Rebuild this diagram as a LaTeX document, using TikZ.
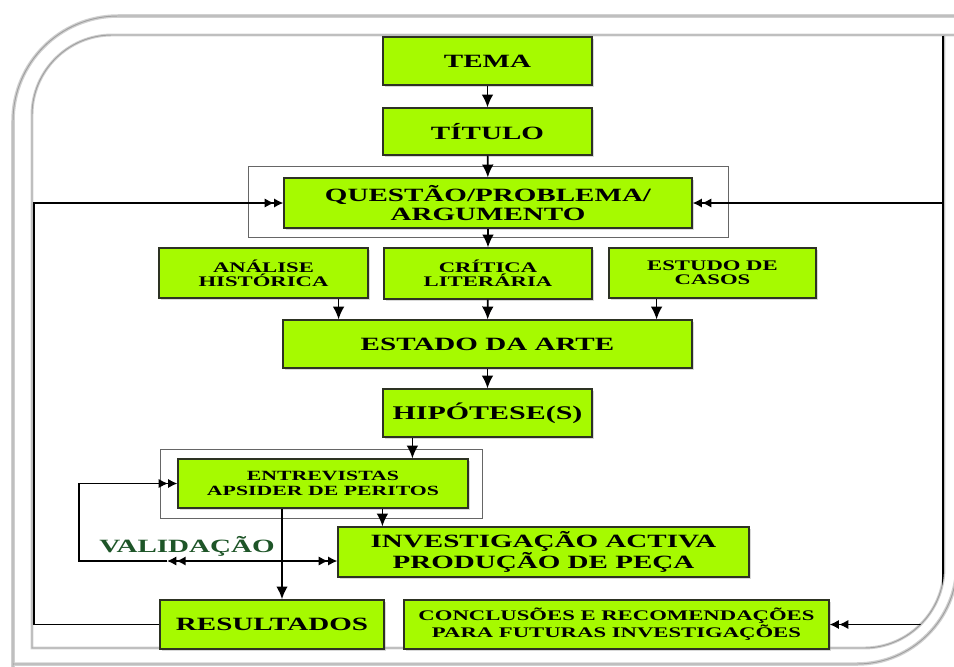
\documentclass[tikz,border=0pt]{standalone}
\usepackage{fontspec}
\newfontfamily\boxfont[FakeStretch=1.55]{Liberation Serif}
\usetikzlibrary{arrows.meta,shadows}
\definecolor{boxgreen}{RGB}{166,250,0}
\definecolor{boxline}{RGB}{45,50,35}
\definecolor{valgreen}{RGB}{30,85,40}
\definecolor{framegray}{RGB}{160,160,160}
\begin{document}
\begin{tikzpicture}[x=0.03cm,y=-0.03cm,
	box/.style={draw=boxline,fill=boxgreen,line width=1pt,inner sep=0pt,align=center,
		drop shadow={opacity=0.3,shadow xshift=0.06cm,shadow yshift=-0.06cm},
		font=\boxfont\bfseries\fontsize{16}{16}\selectfont},
	wh/.style 2 args={minimum width=#1*0.03cm,minimum height=#2*0.03cm},
	smalltext/.style={font=\boxfont\bfseries\fontsize{12.5}{12}\selectfont},
	grp/.style={draw=black!60,line width=0.8pt},
	link/.style={line width=1.4pt,-{Latex[length=11pt,width=10pt]}},
	dtip/.style={line width=1.4pt},
	dlink/.style={dtip,-{Latex[length=8pt,width=8pt]Latex[length=8pt,width=8pt]}}]
	\useasboundingbox (0,0) rectangle (954,666);
	\fill[white] (0,0) rectangle (954,666);
	% frames
	\draw[framegray!50,line width=3pt] (13,680) -- (13,121) .. controls (13,63) and (60,16) .. (118,16) -- (957,16) -- (957,564) .. controls (957,619) and (912,664) .. (857,664) -- (13,664);
	\draw[framegray,line width=0.8pt] (13,680) -- (13,121) .. controls (13,63) and (60,16) .. (118,16) -- (957,16) -- (957,564) .. controls (957,619) and (912,664) .. (857,664) -- (13,664);
	\draw[framegray!50,line width=2.5pt] (954,35) -- (112,35) .. controls (68,35) and (32,71) .. (32,115) -- (32,648) -- (864,648) .. controls (908,648) and (944,612) .. (944,568) -- (944,35);
	\draw[framegray,line width=0.8pt] (954,35) -- (112,35) .. controls (68,35) and (32,71) .. (32,115) -- (32,648) -- (864,648) .. controls (908,648) and (944,612) .. (944,568) -- (944,35);

	\draw[grp] (248,166) rectangle (728,237);
	\draw[grp] (160,449) rectangle (482,518);

	\node[box,wh={209}{48}] (tema) at (487.5,61) {TEMA};
	\node[box,wh={209}{47}] (titulo) at (487.5,131.5) {TÍTULO};
	\node[box,wh={408}{50}] (qst) at (488,203) {QUESTÃO/PROBLEMA/\\ARGUMENTO};
	\node[box,smalltext,wh={209}{50}] (ana) at (263.5,273) {ANÁLISE\\HISTÓRICA};
	\node[box,smalltext,wh={208}{51}] (cri) at (488,273.5) {CRÍTICA\\LITERÁRIA};
	\node[box,smalltext,wh={207}{50}] (est) at (712.5,273) {ESTUDO DE\\CASOS};
	\node[box,wh={409}{48}] (arte) at (487.5,344) {ESTADO DA ARTE};
	\node[box,wh={209}{48},font=\boxfont\bfseries\fontsize{16.5}{16}\selectfont] (hip) at (487.5,413) {HIPÓTESE(S)};
	\node[box,wh={290}{49},font=\boxfont\bfseries\fontsize{12}{12.8}\selectfont] (ent) at (323,483.5) {ENTREVISTAS\\APSIDER DE PERITOS};
	\node[box,wh={411}{50},font=\boxfont\bfseries\fontsize{16}{14.5}\selectfont] (inv) at (543.5,552) {INVESTIGAÇÃO ACTIVA\\PRODUÇÃO DE PEÇA};
	\node[box,wh={224}{49}] (res) at (272,624.5) {RESULTADOS};
	\node[box,smalltext,wh={425}{49}] (con) at (616.5,624.5) {CONCLUSÕES E RECOMENDAÇÕES\\PARA FUTURAS INVESTIGAÇÕES};
	\node[text=valgreen,font=\boxfont\bfseries\fontsize{16}{16}\selectfont] (val) at (187,546) {VALIDAÇÃO};

	\draw[link] (tema) -- (titulo);
	\draw[link] (titulo) -- (qst);
	\draw[link] (qst) -- (cri);
	\coordinate (a1) at ([xshift=-0.9cm]ana.south east);
	\coordinate (e1) at ([xshift=-4.8cm]est.south east);
	\draw[link] (a1) -- (a1 |- arte.north);
	\draw[link] (cri) -- (arte);
	\draw[link] (e1) -- (e1 |- arte.north);
	\draw[link] (arte) -- (hip);
	\coordinate (h1) at ([xshift=0.9cm]hip.south west);
	\draw[link] (h1) -- (h1 |- ent.north);
	\coordinate (i1) at ([xshift=1.35cm]inv.north west);
	\draw[link] (i1 |- ent.south) -- (i1);
	\coordinate (r1) at ([xshift=0.3cm]res.north);
	\draw[link,line width=2.2pt] (r1 |- ent.south) -- (r1);

	% validacao
	\coordinate (vl) at (79,561);
	\coordinate (vm) at (167,561);
	\draw[dlink] (vm) -- (vl) |- (ent.west);
	\draw[dtip,{Latex[length=8pt,width=8pt]Latex[length=8pt,width=8pt]}-{Latex[length=8pt,width=8pt]Latex[length=8pt,width=8pt]}] (vm) -- (vm -| inv.west);

	% loops along the frame
	\begin{scope}
		\clip (32,648) -- (32,115) .. controls (32,71) and (68,35) .. (112,35) -- (944,35) -- (944,568) .. controls (944,612) and (908,648) .. (864,648) -- cycle;
		\coordinate (lp) at (34,203);
		\coordinate (rp) at (943,203);
		\draw[dlink] (res.west) -| (lp) -- (qst.west);
		\draw[dtip] (943,36) -- (rp);
		\draw[dlink] (rp) -- (qst.east);
		\draw[dlink] (rp) |- (con.east);
	\end{scope}
\end{tikzpicture}
\end{document}
